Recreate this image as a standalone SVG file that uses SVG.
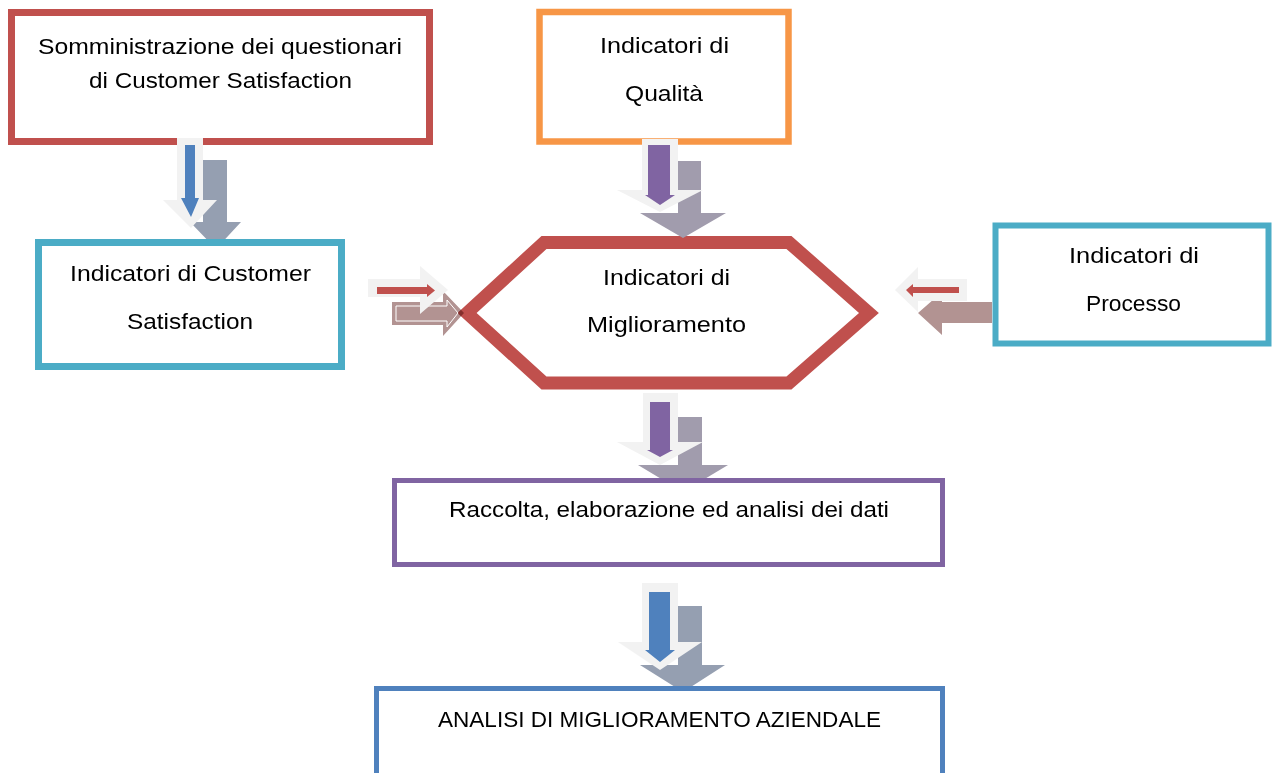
<svg xmlns="http://www.w3.org/2000/svg" width="1273" height="773" viewBox="0 0 1273 773">
<style>
text{font-family:"Liberation Sans","Noto Sans",Arial,sans-serif;font-size:22px;fill:#000;text-anchor:middle}
.box{fill:#fff}
.lg{fill:#f2f2f2}
.shB{fill:#959fb1}
.shP{fill:#a19cad}
.shR{fill:#b29392;mix-blend-mode:multiply}
.blue{fill:#4f81bd}
.purple{fill:#8064a2}
.red{fill:#c0504d}
</style>
<rect width="1273" height="773" fill="#fff"/>
<g id="node-somministrazione">
<rect class="box" x="11.5" y="12.5" width="418" height="129" stroke="#c0504d" stroke-width="7"/>
<text x="220" y="54" textLength="364" lengthAdjust="spacingAndGlyphs">Somministrazione dei questionari</text>
<text x="220.5" y="88" textLength="263" lengthAdjust="spacingAndGlyphs">di Customer Satisfaction</text>
</g>
<g id="node-qualita">
<rect class="box" x="539.5" y="12" width="249" height="129.5" stroke="#f79646" stroke-width="6.5"/>
<text x="664.5" y="53" textLength="129" lengthAdjust="spacingAndGlyphs">Indicatori di</text>
<text x="664" y="101" textLength="78" lengthAdjust="spacingAndGlyphs">Qualità</text>
</g>
<g id="node-miglioramento">
<polygon class="box" points="467,313 544,242.5 789,242.5 869,313 789,383 544,383" stroke="#c0504d" stroke-width="13" stroke-linejoin="miter"/>
<text x="666.5" y="285" textLength="127" lengthAdjust="spacingAndGlyphs">Indicatori di</text>
<text x="666.5" y="332" textLength="159" lengthAdjust="spacingAndGlyphs">Miglioramento</text>
</g>
<g id="connectors">
<!-- somministrazione -> customer satisfaction -->
<polygon class="shB" points="203,160 227,160 227,222 241,222 216,249 190,222 203,222"/>
<polygon class="lg" points="177,138 203,138 203,200 217,200 191,228 163,200 177,200"/>
<polygon class="blue" points="185,145 195,145 195,198 199,198 191,217 181,198 185,198"/>
<!-- qualita -> miglioramento -->
<polygon class="shP" points="678,161 701,161 701,213 726,213 683,238 640,213 678,213"/>
<polygon class="lg" points="642,139 678,139 678,190 703,190 660,212 617,190 642,190"/>
<polygon class="purple" points="648,145 670,145 670,195 675,195 660,205 645,195 648,195"/>
<!-- customer satisfaction -> miglioramento -->
<polygon class="shR" points="392,302 443,302 443,291 464,313 443,336 443,325 392,325"/>
<polygon points="396,306 447,306 447,300 458,313 447,327 447,321 396,321" fill="none" stroke="#fff" stroke-width="1"/>
<polygon class="lg" points="368,279 420,279 420,266 448,290 420,314 420,297 368,297"/>
<polygon class="red" points="377,287 427,287 427,284 435,290.5 427,297 427,294 377,294"/>
<!-- processo -> miglioramento -->
<polygon class="shR" points="992,302 942,302 942,292 918,313 942,335 942,323 992,323"/>
<polygon class="lg" points="967,279 918,279 918,267 895,290 918,312 918,301 967,301"/>
<polygon class="red" points="959,287 913,287 913,284 906,290 913,297 913,293 959,293"/>
<!-- miglioramento -> raccolta -->
<polygon class="shP" points="678,417 702,417 702,465 728,465 683,492 638,465 678,465"/>
<polygon class="lg" points="643,393 678,393 678,442 703,442 660,465 617,442 643,442"/>
<polygon class="purple" points="650,402 670,402 670,450 673,450 660,457 647,450 650,450"/>
<!-- raccolta -> analisi -->
<polygon class="shB" points="678,606 702,606 702,665 725,665 683,692 640,665 678,665"/>
<polygon class="lg" points="642,583 678,583 678,642 702,642 660,670 618,642 642,642"/>
<polygon class="blue" points="649,592 670,592 670,650 675,650 660,662 645,650 649,650"/>
</g>
<g id="node-customer">
<rect class="box" x="38.5" y="242.5" width="303" height="124" stroke="#4bacc6" stroke-width="7"/>
<text x="190.5" y="281" textLength="241" lengthAdjust="spacingAndGlyphs">Indicatori di Customer</text>
<text x="190" y="329" textLength="126" lengthAdjust="spacingAndGlyphs">Satisfaction</text>
</g>
<g id="node-processo">
<rect class="box" x="995.5" y="225.5" width="273" height="118" stroke="#4bacc6" stroke-width="6"/>
<text x="1134" y="263" textLength="130" lengthAdjust="spacingAndGlyphs">Indicatori di</text>
<text x="1133.5" y="311" textLength="95" lengthAdjust="spacingAndGlyphs">Processo</text>
</g>
<g id="node-raccolta">
<rect class="box" x="394.5" y="480.5" width="548" height="84" stroke="#8064a2" stroke-width="5"/>
<text x="669" y="517" textLength="440" lengthAdjust="spacingAndGlyphs">Raccolta, elaborazione ed analisi dei dati</text>
</g>
<g id="node-analisi">
<rect class="box" x="376.5" y="688.5" width="566" height="100" stroke="#4f81bd" stroke-width="5"/>
<text x="659.5" y="727" textLength="443" lengthAdjust="spacingAndGlyphs">ANALISI DI MIGLIORAMENTO AZIENDALE</text>
</g>
</svg>
